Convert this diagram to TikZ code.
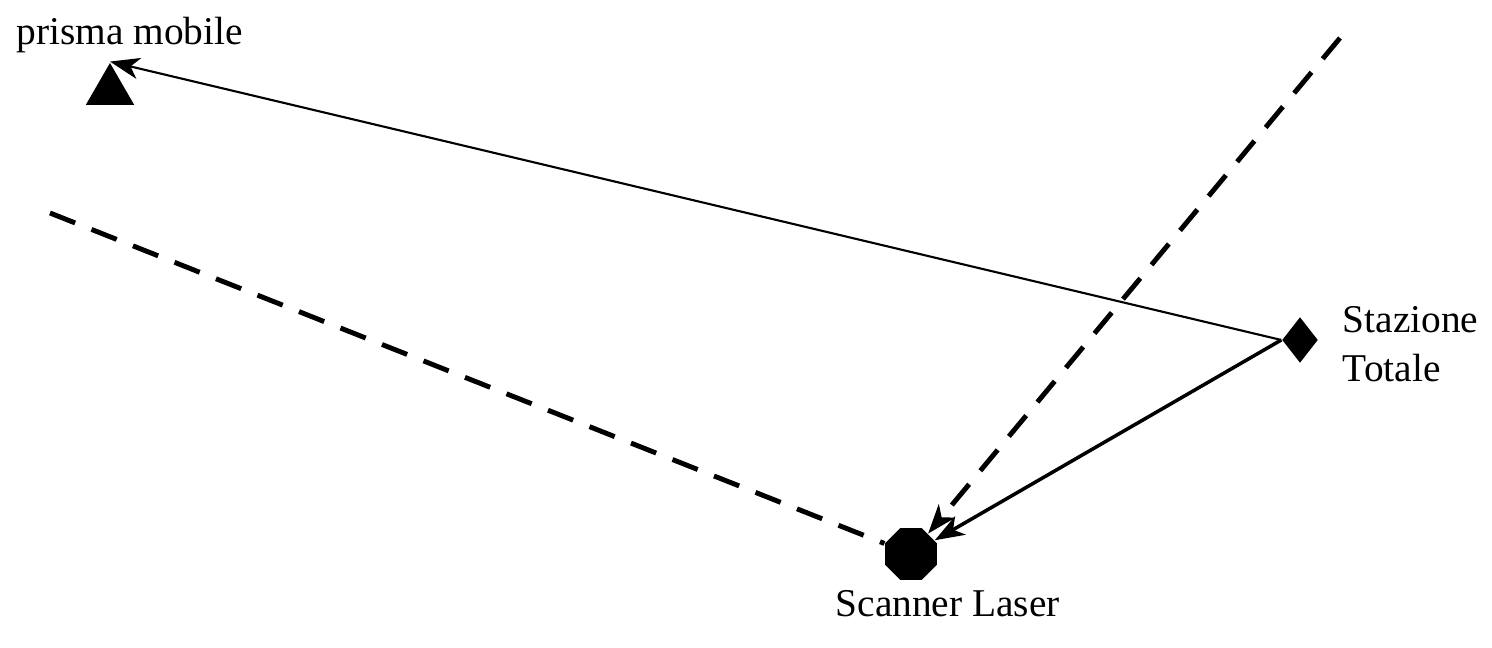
\documentclass[tikz,border=0pt]{standalone}
\usepackage{fontspec}
\setmainfont{Liberation Serif}
\usetikzlibrary{shapes.geometric, calc}

% filled stealth-like head at #2, for a ray coming from #1
\newcommand{\raytip}[2]{\fill (#2) -- ($(#2)!9pt!20:(#1)$) -- ($(#2)!6pt!(#1)$) -- ($(#2)!9pt!-20:(#1)$) -- cycle;}

\begin{document}
\begin{tikzpicture}[prism/.style={regular polygon,regular polygon sides=3,fill,inner sep=0pt,minimum size=0.56cm},
                station/.style={diamond,fill,inner sep=0pt,minimum width=0.36cm,minimum height=0.46cm},
                scanner/.style={regular polygon,regular polygon sides=8,fill,inner sep=0pt,minimum size=0.56cm},
                tag/.style={inner sep=0pt,font=\fontsize{11.2}{14}\selectfont},
                thin ray/.style={line width=0.6pt,shorten >=4pt},
                thick ray/.style={line width=1pt,shorten >=4pt},
                sight/.style={line width=1.4pt,dash pattern=on 7.7pt off 5pt}]

  \useasboundingbox (0,0) rectangle (14.92,-6.48);

  \node[prism] (prisma) at (1.10,-0.91) {};
  \node[station] (stazione) at (13.00,-3.40) {};
  \node[scanner] (scanner) at (9.11,-5.54) {};

  \node[tag, anchor=base west] (prisma label) at (0.16,-0.45) {prisma mobile};
  \node[tag, anchor=north west, align=left] (stazione label) at (13.42,-3.06) {Stazione\\Totale};
  \node[tag, anchor=base west] (scanner label) at (8.35,-6.17) {Scanner Laser};

  \coordinate (far up) at (13.40,-0.38);
  \coordinate (far left) at (0.50,-2.13);
  \coordinate (prism tip) at (prisma.corner 1);
  \coordinate (hit station) at (scanner.30);
  \coordinate (hit far) at (scanner.50);

  \draw[thin ray] (stazione.west) -- (prism tip);
  \raytip{stazione.west}{prism tip}
  \draw[thick ray] (stazione.west) -- (hit station);
  \raytip{stazione.west}{hit station}
  \draw[sight,shorten >=4pt] (far up) -- (hit far);
  \raytip{far up}{hit far}
  \draw[sight] (far left) -- (scanner);
\end{tikzpicture}
\end{document}
